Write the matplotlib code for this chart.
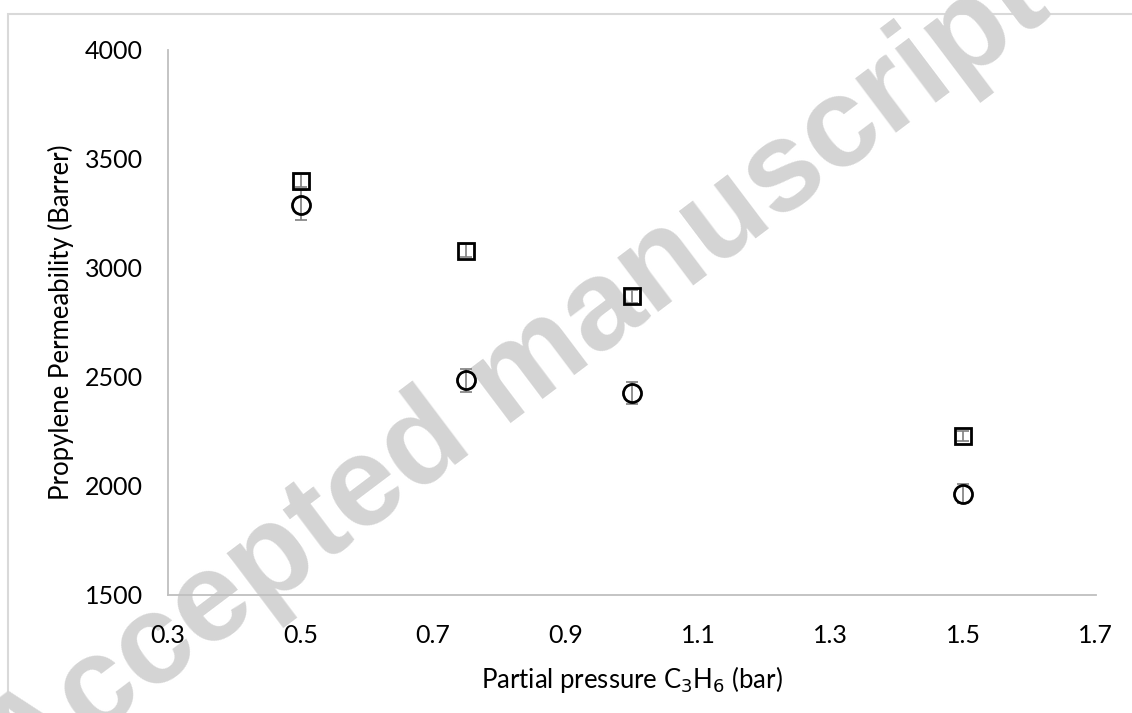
import matplotlib
matplotlib.use('Agg')
import matplotlib.pyplot as plt
from matplotlib.patches import Rectangle

# Data
pressure = [0.5, 0.75, 1.0, 1.5]
perm_square = [3400, 3080, 2870, 2230]
err_square = [30, 30, 30, 23]
perm_circle = [3290, 2485, 2425, 1965]
err_circle = [70, 53, 50, 44]

xticks = [0.3, 0.5, 0.7, 0.9, 1.1, 1.3, 1.5, 1.7]
yticks = [1500, 2000, 2500, 3000, 3500, 4000]

plt.rcParams['font.family'] = ['Lato', 'DejaVu Sans']

fig = plt.figure(figsize=(11.32, 7.13), dpi=100)
ax = fig.add_axes([0.1484, 0.1655, 0.8196, 0.7644])
ax.set_zorder(2)

# light frame around the figure
fig.patches.append(Rectangle((8/1132, -0.05), 1.1, 1 - 14/713 + 0.05,
                             transform=fig.transFigure, fill=False,
                             edgecolor='#d9d9d9', linewidth=1.5, zorder=0))

# watermark
fig.text(0.455, 0.47, 'Accepted manuscript', family='Liberation Sans',
         fontweight='bold', fontsize=92, color='#d4d4d4', rotation=37,
         ha='center', va='center', zorder=1)

ax.set_facecolor('none')
ax.errorbar(pressure, perm_square, yerr=err_square, fmt='none',
            ecolor='#7f7f7f', elinewidth=1.2, capsize=4, capthick=1.2, zorder=3)
ax.plot(pressure, perm_square, 's', ms=12, mfc='none', mec='black', mew=2, zorder=4)
ax.errorbar(pressure, perm_circle, yerr=err_circle, fmt='none',
            ecolor='#7f7f7f', elinewidth=1.2, capsize=4, capthick=1.2, zorder=3)
ax.plot(pressure, perm_circle, 'o', ms=13, mfc='none', mec='black', mew=2, zorder=4)

ax.set_xlim(0.3, 1.7)
ax.set_ylim(1500, 4000)
ax.set_xticks(xticks)
ax.set_xticklabels([f'{t:.1f}' for t in xticks])
ax.set_yticks(yticks)
ax.tick_params(length=0, labelsize=18)
ax.tick_params(axis='x', pad=21)
ax.tick_params(axis='y', pad=18)
for s in ['top', 'right']:
    ax.spines[s].set_visible(False)
for s in ['left', 'bottom']:
    ax.spines[s].set_color('#bfbfbf')
    ax.spines[s].set_linewidth(1.3)

ax.set_xlabel('Partial pressure C$_3$H$_6$ (bar)', fontsize=18.5, labelpad=12)
ax.set_ylabel('Propylene Permeability (Barrer)', fontsize=18.5, labelpad=8)

fig.savefig('out.png', dpi=100)
